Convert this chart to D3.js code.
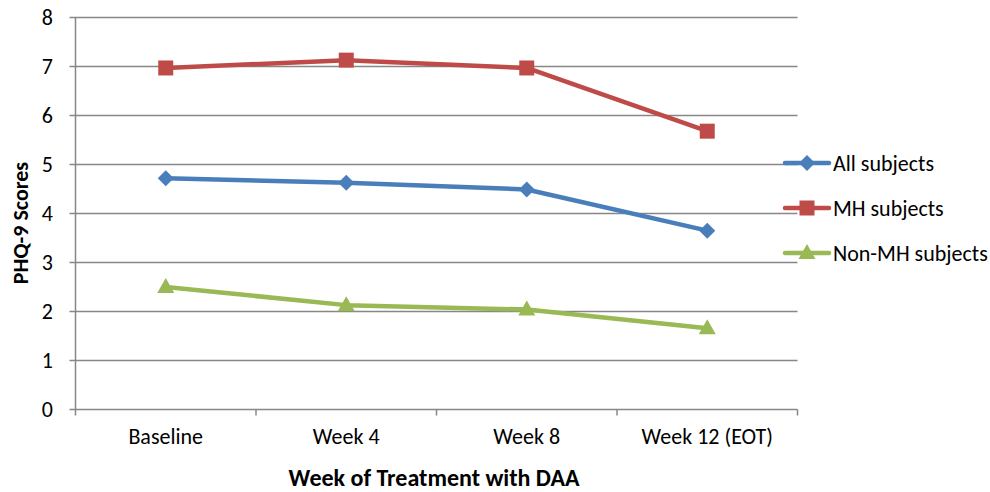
<!DOCTYPE html>
<html><head><meta charset="utf-8">
<script src="https://cdn.jsdelivr.net/npm/d3@7/dist/d3.min.js"></script>
<style>
body{margin:0;background:#fff;}
text{font-family:Carlito, Calibri, Lato, "Open Sans", sans-serif;fill:#000;}
</style></head>
<body><svg id="c" width="990" height="492"></svg>
<script>
const categories = ["Baseline", "Week 4", "Week 8", "Week 12 (EOT)"];
const allSubjects = [4.72, 4.63, 4.49, 3.65];
const mhSubjects = [6.97, 7.13, 6.97, 5.68];
const nonMhSubjects = [2.50, 2.13, 2.04, 1.66];
const yTicks = [0, 1, 2, 3, 4, 5, 6, 7, 8];
const seriesNames = ["All subjects", "MH subjects", "Non-MH subjects"];
const seriesColors = ["#4a7ebb", "#be4b48", "#98b954"];
const seriesShapes = ["diamond", "square", "triangle"];

const series = [allSubjects, mhSubjects, nonMhSubjects].map((v, i) => ({
  name: seriesNames[i], values: v, color: seriesColors[i], shape: seriesShapes[i]
}));

const svg = d3.select("#c");
const pLeft = 75.5, pRight = 797.5, pTop = 17.5, pBottom = 409.5;
const x = d3.scaleBand().domain(categories).range([pLeft, pRight]);
const y = d3.scaleLinear().domain([0, 8]).range([pBottom, pTop]);
const gridColor = "#878787";

svg.append("g").selectAll("line").data(yTicks).join("line")
  .attr("x1", pLeft - 6).attr("x2", pRight)
  .attr("y1", d => y(d)).attr("y2", d => y(d))
  .attr("stroke", gridColor).attr("stroke-width", 1.5);

svg.append("line").attr("x1", pLeft).attr("x2", pLeft).attr("y1", pTop).attr("y2", pBottom + 6)
  .attr("stroke", gridColor).attr("stroke-width", 1.5);

const bounds = categories.map(c => x(c) + x.bandwidth());
svg.append("g").selectAll("line").data(bounds).join("line")
  .attr("x1", d => d).attr("x2", d => d).attr("y1", pBottom).attr("y2", pBottom + 6)
  .attr("stroke", gridColor).attr("stroke-width", 1.5);

svg.append("g").selectAll("text").data(yTicks).join("text")
  .attr("x", 53).attr("y", d => y(d)).attr("dy", "0.35em")
  .attr("text-anchor", "end").attr("font-size", 22).text(d => d);

svg.append("g").selectAll("text").data(categories).join("text")
  .attr("x", d => x(d) + x.bandwidth() / 2).attr("y", 444)
  .attr("text-anchor", "middle").attr("font-size", 22).text(d => d);

svg.append("text").attr("x", 434).attr("y", 486).attr("text-anchor", "middle")
  .attr("font-size", 24).attr("font-weight", "bold").text("Week of Treatment with DAA");
svg.append("text").attr("transform", "translate(28,223) rotate(-90)").attr("text-anchor", "middle")
  .attr("font-size", 22).attr("font-weight", "bold").text("PHQ-9 Scores");

const cx = c => x(c) + x.bandwidth() / 2;
const line = d3.line().x(d => cx(d.c)).y(d => y(d.v));

function marker(g, shape, color, px, py) {
  if (shape === "diamond") {
    g.append("path").attr("d", `M${px},${py-8}L${px+8},${py}L${px},${py+8}L${px-8},${py}Z`).attr("fill", color);
  } else if (shape === "square") {
    g.append("rect").attr("x", px - 7.5).attr("y", py - 7.5).attr("width", 15).attr("height", 15).attr("fill", color);
  } else {
    g.append("path").attr("d", `M${px},${py-9}L${px+8.5},${py+6}L${px-8.5},${py+6}Z`).attr("fill", color);
  }
}

series.forEach(s => {
  const pts = s.values.map((v, i) => ({c: categories[i], v}));
  const g = svg.append("g");
  g.append("path").datum(pts).attr("d", line).attr("fill", "none")
    .attr("stroke", s.color).attr("stroke-width", 4.5).attr("stroke-linejoin", "round");
  pts.forEach(p => marker(g, s.shape, s.color, cx(p.c), y(p.v)));
});

const legY = [163, 208, 253];
series.forEach((s, i) => {
  const g = svg.append("g");
  g.append("line").attr("x1", 785).attr("x2", 829).attr("y1", legY[i]).attr("y2", legY[i])
    .attr("stroke", s.color).attr("stroke-width", 4.5).attr("stroke-linecap", "round");
  marker(g, s.shape, s.color, 807, legY[i]);
  g.append("text").attr("x", 833).attr("y", legY[i]).attr("dy", "0.35em")
    .attr("font-size", 22).text(s.name);
});
</script></body></html>
